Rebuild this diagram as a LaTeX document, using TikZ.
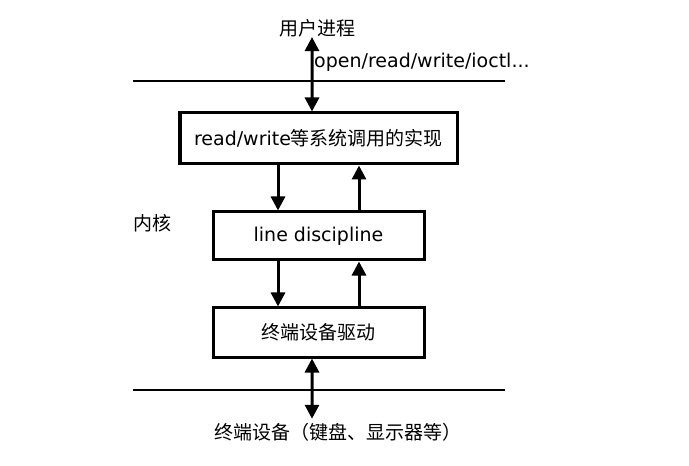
\documentclass[tikz,border=0pt]{standalone}
\usepackage{fontspec}
\setmainfont{DejaVu Sans}
\newfontfamily\cjk{Noto Sans CJK SC}
\usetikzlibrary{arrows.meta}

\begin{document}
\begin{tikzpicture}[x = 0.35146cm, y = 0.35146cm, font = \fontsize{19}{23}\selectfont,
		box/.style = {draw, line width = 3pt, inner sep = 0},
		flow/.style = {line width = 3pt, -{Triangle[length = 14pt, width = 14pt]}},
		both/.style = {line width = 3pt, {Triangle[length = 14pt, width = 14pt]}-{Triangle[length = 14pt, width = 14pt]}},
		sep/.style = {line width = 2.5pt}]
	
		\useasboundingbox (0, 0) rectangle (68.9, -46.6);
	
		\draw[sep] (13.3, -8.1) -- (50.5, -8.1);
		\draw[sep] (13.3, -39.0) -- (50.5, -39.0);
		
		\node[box, minimum width = 277pt, minimum height = 51pt] (syscall) at (31.85, -13.85) {read/write{\cjk 等系统调用的实现}};
		\node[box, minimum width = 211pt, minimum height = 48pt] (ldisc) at (31.85, -23.6) {line discipline};
		\node[box, minimum width = 211pt, minimum height = 49pt] (driver) at (31.85, -33.25) {\cjk 终端设备驱动};
		
		\node[inner sep = 0] (user) at (31.7, -2.8) {\cjk 用户进程};
		\node[inner sep = 0, anchor = west] (calls) at (31.4, -6.2) {open/read/write/ioctl...};
		\node[inner sep = 0] (kernel) at (15.2, -22.3) {\cjk 内核};
		\node[inner sep = 0] (dev) at (33.8, -43.2) {\cjk 终端设备（键盘、显示器等）};
		
		\draw[both] ([xshift = -6.5pt]syscall.north) -- ([xshift = -5pt]user.south);
		\draw[flow] ([xshift = -40.5pt]syscall.south) -- ([xshift = -40.5pt]ldisc.north);
		\draw[flow] ([xshift = 40.5pt]ldisc.north) -- ([xshift = 40.5pt]syscall.south);
		\draw[flow] ([xshift = -40.5pt]ldisc.south) -- ([xshift = -40.5pt]driver.north);
		\draw[flow] ([xshift = 40.5pt]driver.north) -- ([xshift = 40.5pt]ldisc.south);
		\draw[both] ([xshift = -6.5pt]driver.south) -- ([xshift = -26pt, yshift = 4pt]dev.north);
		
	\end{tikzpicture}
\end{document}
